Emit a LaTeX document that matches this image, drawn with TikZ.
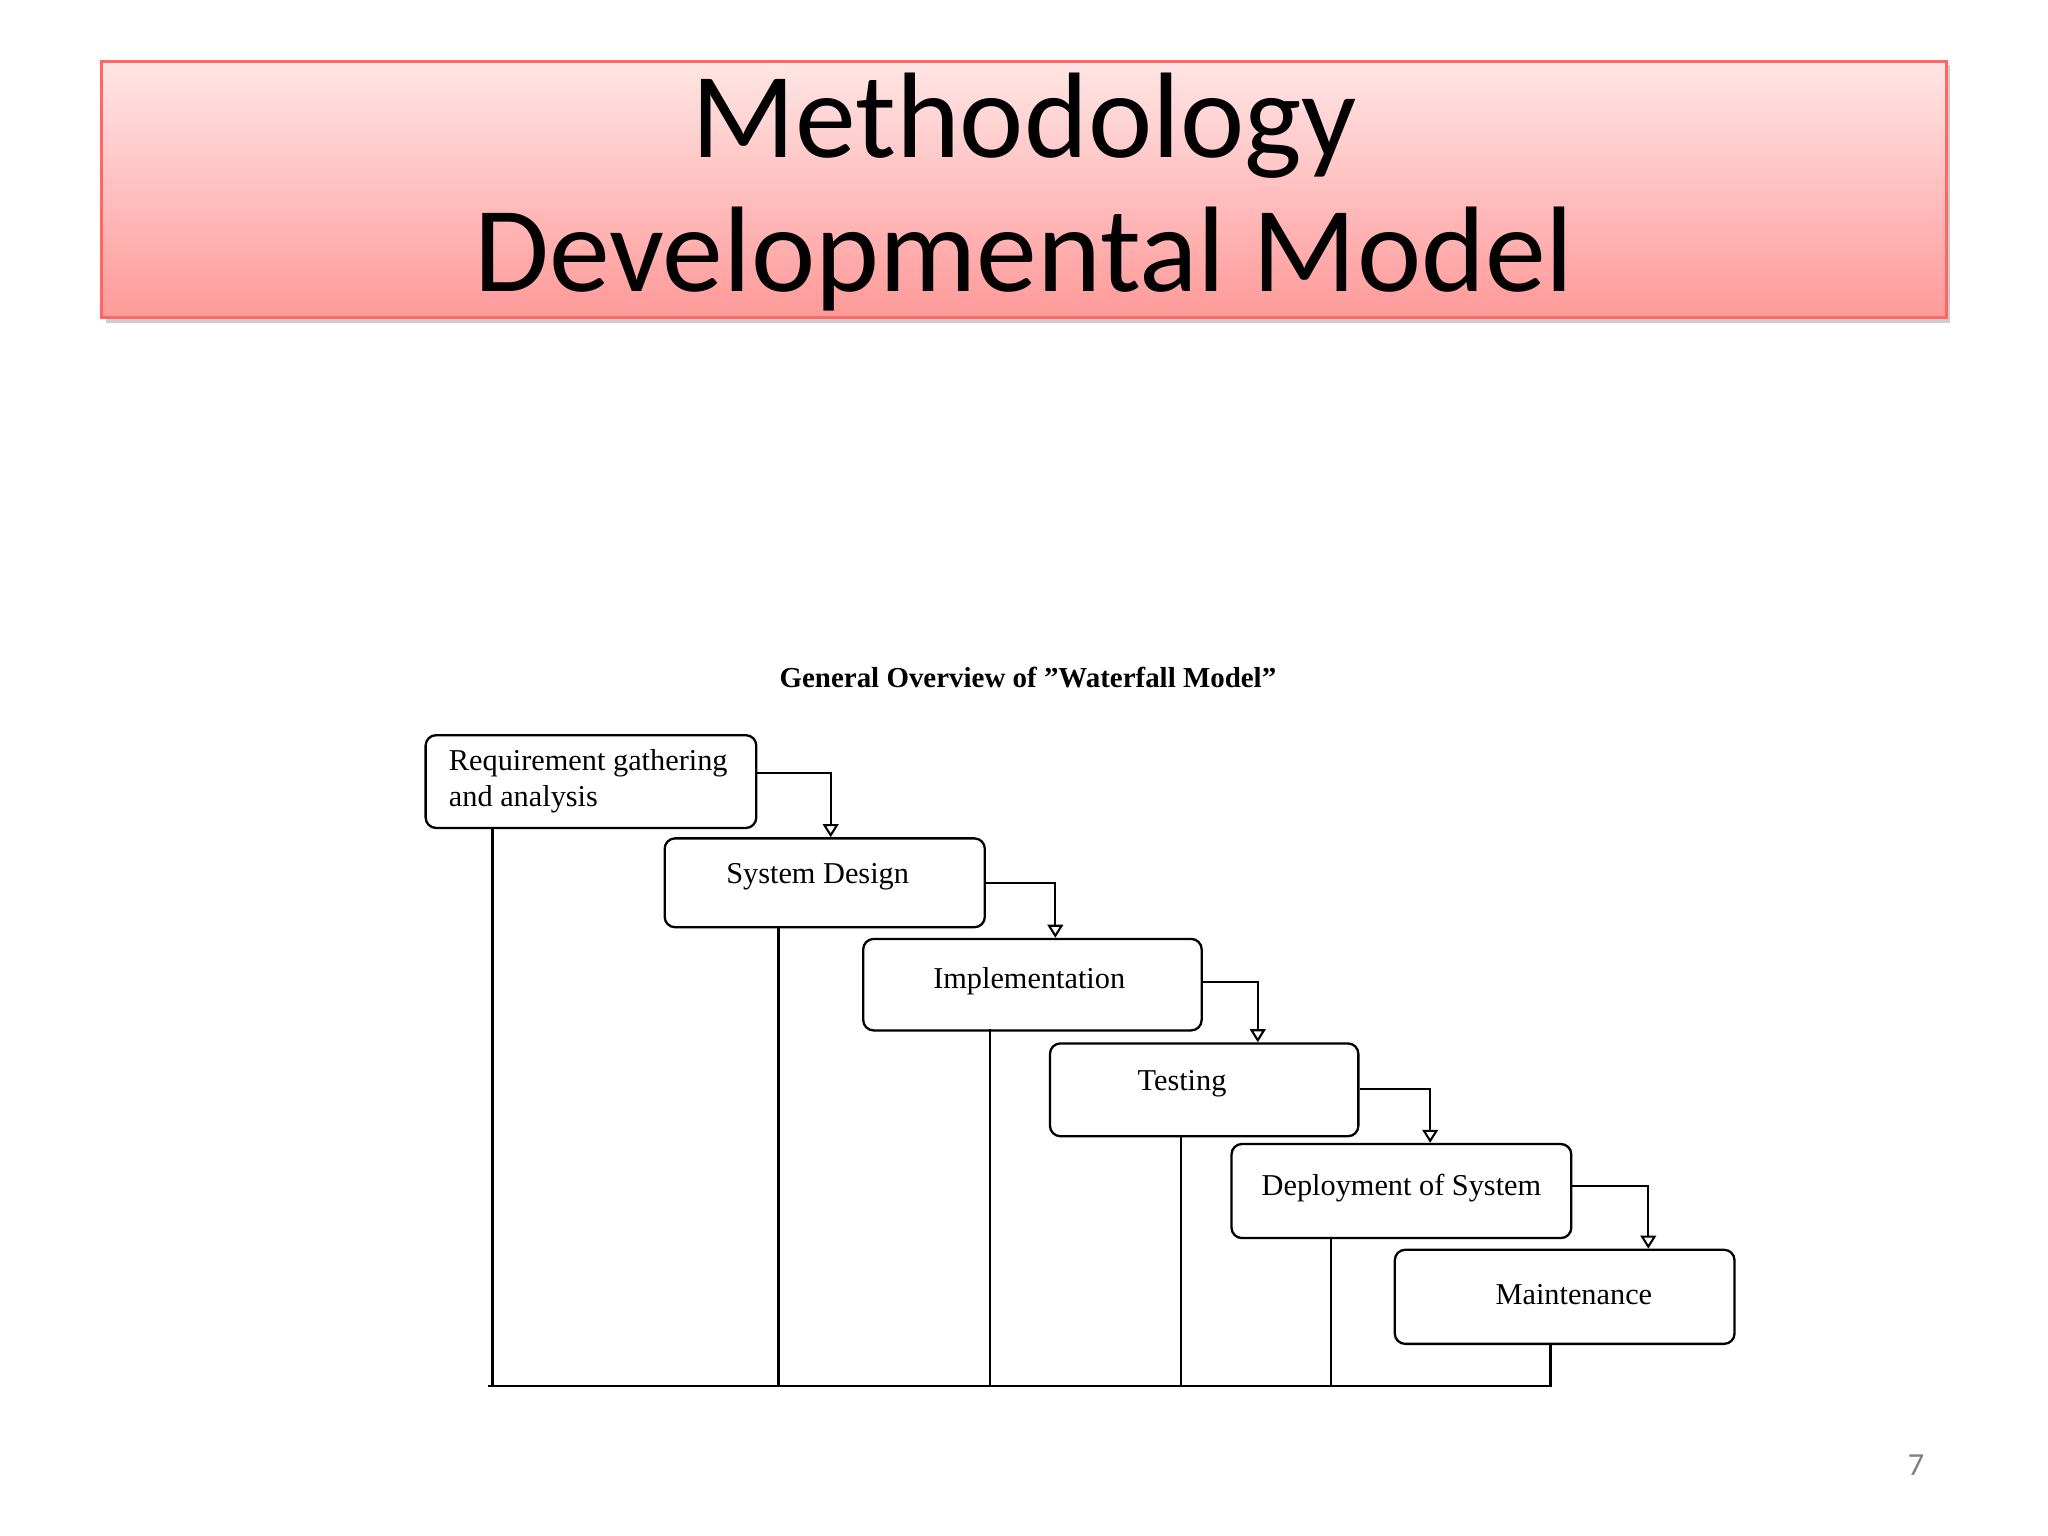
\documentclass[tikz,border=0pt]{standalone}
\usepackage{fontspec}
\setmainfont{Liberation Serif}
\newfontfamily\titlefont{Carlito}
\usetikzlibrary{arrows.meta}
\begin{document}
\begin{tikzpicture}[x=0.01cm,y=-0.01cm,
  stage/.style={draw,rounded corners=0.08cm,line width=0.5pt,inner sep=0pt,anchor=north west,font=\fontsize{6.6pt}{7.6pt}\selectfont},
  flow/.style={line width=0.45pt,-{Triangle[open,length=0.1cm,width=0.12cm]}},
  line/.style={line width=0.5pt}]
\useasboundingbox (0,0) rectangle (1568,1176);
\fill[white] (0,0) rectangle (1568,1176);
% title
\fill[gray!40] (81,50) rectangle (1493,247);
\shade[top color=red!10,bottom color=red!40!white] (78,47) rectangle (1490,243);
\draw[red!60,line width=0.6pt] (78,47) rectangle (1490,243);
\node[font=\titlefont\fontsize{26.5pt}{29pt}\selectfont,align=center] (title) at (784,147) {Methodology\\Developmental Model};
\node[font=\bfseries\fontsize{6.3pt}{7pt}\selectfont] (head) at (787,519) {General Overview of "Waterfall Model"};
% stages
\node[stage,minimum width=2.53cm,minimum height=0.71cm,align=left] (s1) at (325,562) {};
\node[anchor=west,align=left,font=\fontsize{6.6pt}{7.8pt}\selectfont,inner sep=0pt] (t1) at (343,598) {Requirement gathering\\and analysis};
\node[stage,minimum width=2.45cm,minimum height=0.68cm] (s2) at (508,641) {};
\node[font=\fontsize{6.6pt}{7.6pt}\selectfont] (t2) at (626,671) {System Design};
\node[stage,minimum width=2.59cm,minimum height=0.70cm] (s3) at (660,718) {};
\node[font=\fontsize{6.6pt}{7.6pt}\selectfont] (t3) at (788,751) {Implementation};
\node[stage,minimum width=2.36cm,minimum height=0.71cm] (s4) at (803,798) {};
\node[font=\fontsize{6.6pt}{7.6pt}\selectfont] (t4) at (905,830) {Testing};
\node[stage,minimum width=2.60cm,minimum height=0.72cm] (s5) at (942,875) {};
\node[font=\fontsize{6.6pt}{7.6pt}\selectfont] (t5) at (1073,910) {Deployment of System};
\node[stage,minimum width=2.60cm,minimum height=0.72cm] (s6) at (1067,956) {};
\node[font=\fontsize{6.6pt}{7.6pt}\selectfont] (t6) at (1205,991) {Maintenance};
% flow arrows
\draw[flow] (s1.east |- 0,592) -| (636,641);
\draw[flow] (s2.east |- 0,676) -| (808,718);
\draw[flow] (s3.east |- 0,752) -| (963,798);
\draw[flow] (s4.east |- 0,834) -| (1095,875);
\draw[flow] (s5.east |- 0,908) -| (1262,956);
% feedback lines
\coordinate (b) at (0,1061);
\draw[line] (377,633) -- (377,1061);
\draw[line] (596,709) -- (596,1061);
\draw[line] (758,788) -- (758,1061);
\draw[line] (904,869) -- (904,1061);
\draw[line] (1019,947) -- (1019,1061);
\draw[line] (1187,1028) -- (1187,1061) -- (374,1061);
\node[text=gray,font=\titlefont\fontsize{7pt}{8pt}\selectfont] (pg) at (1467,1122) {7};
\end{tikzpicture}
\end{document}
